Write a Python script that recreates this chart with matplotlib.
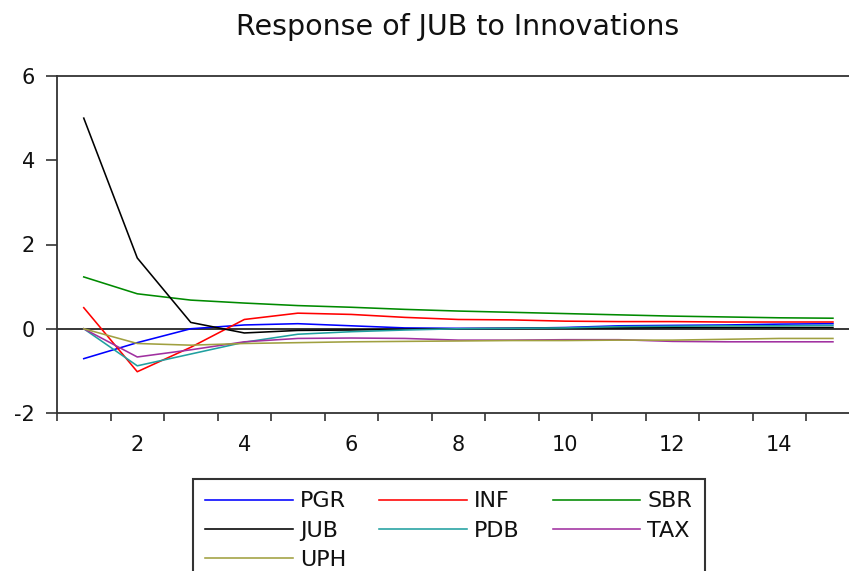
import numpy as np
import matplotlib
matplotlib.use("Agg")
import matplotlib.pyplot as plt

plt.rcParams['font.family'] = ['DejaVu Sans']

# Impulse responses of JUB over 15 periods
periods = np.arange(1, 16)
PGR = [-0.71, -0.33, 0.00, 0.09, 0.12, 0.07, 0.02, 0.01, 0.01, 0.03, 0.07, 0.08, 0.09, 0.11, 0.12]
INF = [0.50, -1.02, -0.44, 0.22, 0.37, 0.34, 0.27, 0.22, 0.21, 0.18, 0.17, 0.17, 0.16, 0.16, 0.16]
SBR = [1.23, 0.83, 0.68, 0.61, 0.55, 0.51, 0.46, 0.42, 0.39, 0.36, 0.33, 0.30, 0.28, 0.26, 0.25]
JUB = [5.00, 1.68, 0.15, -0.10, -0.04, -0.03, -0.01, 0.00, 0.01, 0.02, 0.02, 0.03, 0.03, 0.03, 0.03]
PDB = [0.00, -0.88, -0.60, -0.32, -0.13, -0.07, -0.03, 0.00, 0.01, 0.02, 0.05, 0.06, 0.07, 0.07, 0.08]
TAX = [0.00, -0.67, -0.50, -0.31, -0.23, -0.22, -0.23, -0.27, -0.27, -0.26, -0.26, -0.30, -0.31, -0.31, -0.31]
UPH = [0.00, -0.35, -0.39, -0.35, -0.33, -0.31, -0.30, -0.29, -0.28, -0.28, -0.27, -0.27, -0.25, -0.23, -0.23]

series_names = ["PGR", "INF", "SBR", "JUB", "PDB", "TAX", "UPH"]
series_values = [PGR, INF, SBR, JUB, PDB, TAX, UPH]
series_colors = ["#0000ff", "#ff0000", "#008a00", "#000000", "#20a0a0", "#a030a0", "#a0a040"]

x_tick_labels = ["2", "4", "6", "8", "10", "12", "14"]
y_ticks = [-2, 0, 2, 4, 6]

fig = plt.figure(figsize=(8.49, 5.71), dpi=100)
ax = fig.add_axes([57 / 849, 1 - 413 / 571, 1 - 57 / 849, (413 - 76) / 571])

ax.axhline(0, color="black", lw=1.1, zorder=1)

lines = {}
for name, vals, col in zip(series_names, series_values, series_colors):
    (ln,) = ax.plot(periods, vals, color=col, lw=1.15, zorder=2, label=name)
    lines[name] = ln

ax.set_xlim(0.5, 15.3)
ax.set_ylim(-2, 6)

# Ticks sit between periods; labels sit on even periods
ax.set_xticks(np.arange(0.5, 15.0, 1.0))
ax.set_xticklabels([])
ax.set_xticks([int(t) for t in x_tick_labels], minor=True)
ax.set_xticklabels(x_tick_labels, minor=True)
ax.tick_params(axis="x", which="major", direction="out", length=6, width=1.2, color="#333333")
ax.tick_params(axis="x", which="minor", length=0, pad=16, labelsize=15, labelcolor="#111111")

ax.set_yticks(y_ticks)
ax.set_yticklabels([str(v) for v in y_ticks])
ax.tick_params(axis="y", direction="out", length=8, width=1.2, pad=8, labelsize=15,
               color="#333333", labelcolor="#111111")

for side in ("left", "bottom", "top"):
    ax.spines[side].set_color("#333333")
    ax.spines[side].set_linewidth(1.3)
ax.spines["right"].set_visible(False)

fig.text(458 / 849, 1 - 35 / 571, "Response of JUB to Innovations",
         ha="center", va="baseline", fontsize=20.5, color="#111111")

order = ["PGR", "JUB", "UPH", "INF", "PDB", "SBR", "TAX"]
leg = fig.legend([lines[n] for n in order], order,
                 loc="upper left", bbox_to_anchor=(193 / 849, 1 - 479 / 571),
                 ncol=3, fontsize=16, frameon=True, fancybox=False, shadow=False,
                 framealpha=1, edgecolor="#333333", borderaxespad=0,
                 borderpad=0.56, handlelength=3.95, handletextpad=0.32,
                 columnspacing=1.47, labelspacing=0.41)
leg.get_frame().set_linewidth(1.5)
for t in leg.get_texts():
    t.set_color("#111111")

fig.savefig("out.png", dpi=100)
